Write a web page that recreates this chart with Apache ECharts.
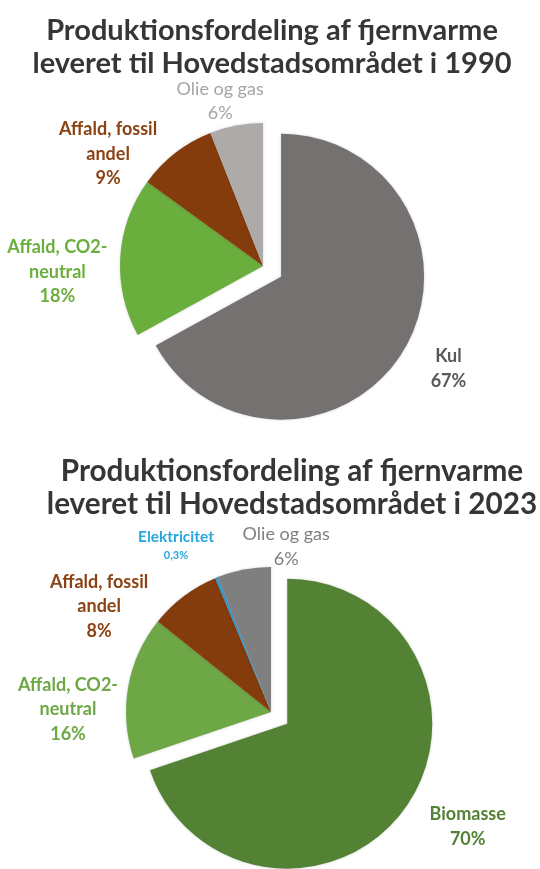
<!DOCTYPE html>
<html>
<head>
<meta charset="utf-8">
<script src="https://cdn.jsdelivr.net/npm/echarts@6/dist/echarts.min.js"></script>
<style>
  html, body { margin: 0; padding: 0; background: #ffffff; }
  #chart { width: 540px; height: 869px; }
</style>
</head>
<body>
<div id="chart"></div>
<script>
// ---- data ----
const title1990 = 'Produktionsfordeling af fjernvarme\nleveret til Hovedstadsområdet i 1990';
const title2023 = 'Produktionsfordeling af fjernvarme\nleveret til Hovedstadsområdet i 2023';
const categories1990 = ['Kul', 'Affald, CO2-\nneutral', 'Affald, fossil\nandel', 'Olie og gas'];
const values1990 = [67, 18, 9, 6];
const categories2023 = ['Biomasse', 'Affald, CO2-\nneutral', 'Affald, fossil\nandel', 'Elektricitet', 'Olie og gas'];
const values2023 = [70, 16, 8, 0.3, 6];

// ---- styles / layout ----
const sliceColors1990 = ['#767171', '#6aae3e', '#843c0c', '#aeaaaa'];
const labelColors1990 = ['#595959', '#6aae3e', '#8c4314', '#a5a5a5'];
const labelWeights1990 = ['bold', 'bold', 'bold', 'normal'];
const sliceColors2023 = ['#548235', '#6ea846', '#843c0c', '#2e9bd6', '#7f7f7f'];
const labelColors2023 = ['#548235', '#6ea846', '#8c4314', '#27a6de', '#7f7f7f'];
const labelWeights2023 = ['bold', 'bold', 'bold', 'bold', 'normal'];

const layouts = [
  { center: [263, 266], radius: 143, explodeIndex: 0, explode: 21,
    labelOff: [[48, 3, -5], [62, -1, 19], [38, -44, 31], [27, -11, 2]] },
  { center: [271, 712], radius: 145, explodeIndex: 0, explode: 20,
    labelOff: [[61, 13, -17], [55, -6, 32], [41, -60, 43], [44, -24, 9], [20, 46, -3]] }
];
const allValues = [values1990, values2023];

// direction of the bisector of slice di (clockwise from 12 o'clock)
function sliceDir(si, di) {
  const vals = allValues[si];
  const total = vals.reduce((a, b) => a + b, 0);
  let cum = 0;
  for (let k = 0; k < di; k++) cum += vals[k];
  const mid = (cum + vals[di] / 2) / total * Math.PI * 2;
  return [Math.sin(mid), -Math.cos(mid)];
}

function explodedCenter(si) {
  const lay = layouts[si];
  const d = sliceDir(si, lay.explodeIndex);
  return [lay.center[0] + d[0] * lay.explode, lay.center[1] + d[1] * lay.explode];
}

function labelPlace(si, di) {
  const lay = layouts[si];
  const dir = sliceDir(si, di);
  const c = di === lay.explodeIndex ? explodedCenter(si) : lay.center;
  const o = lay.labelOff[di];
  const d = lay.radius + o[0];
  return { x: c[0] + dir[0] * d + o[1], y: c[1] + dir[1] * d + o[2], align: 'center', verticalAlign: 'middle' };
}

function fmtVal(v) { return String(v).replace('.', ',') + '%'; }

// part: 'rest' draws every slice except the exploded one, 'explode' draws only the exploded one
function buildData(si, cats, vals, sliceColors, labelColors, weights, part) {
  const ex = layouts[si].explodeIndex;
  return cats.map((c, i) => {
    const visible = part === 'explode' ? i === ex : i !== ex;
    const item = {
      name: c,
      value: vals[i],
      itemStyle: visible
        ? { color: sliceColors[i] }
        : { color: 'rgba(0,0,0,0)', shadowBlur: 0, shadowColor: 'rgba(0,0,0,0)' },
      label: visible
        ? { show: true, color: labelColors[i], fontWeight: weights[i] }
        : { show: false }
    };
    if (visible && c === 'Elektricitet') {
      item.label.rich = {
        n: { fontSize: 15.5, lineHeight: 20, fontWeight: 'bold', color: labelColors[i], fontFamily: 'Lato' },
        v: { fontSize: 11, lineHeight: 18, fontWeight: 'bold', color: labelColors[i], fontFamily: 'Lato' }
      };
    }
    return item;
  });
}

function pieSeries(si, data, center) {
  const lay = layouts[si];
  return {
    type: 'pie',
    center: center,
    radius: [0, lay.radius],
    startAngle: 90,
    clockwise: true,
    avoidLabelOverlap: false,
    emphasis: { disabled: true },
    silent: true,
    itemStyle: { borderWidth: 0, shadowBlur: 3, shadowColor: 'rgba(0,0,0,0.18)' },
    label: {
      show: true,
      position: 'outside',
      fontFamily: 'Lato',
      fontSize: 18,
      lineHeight: 24.5,
      rich: { n: {}, v: {} },
      formatter: function (p) {
        return '{n|' + p.name.split('\n').join('}\n{n|') + '}\n{v|' + fmtVal(p.value) + '}';
      }
    },
    labelLine: { show: false },
    labelLayout: function (params) { return labelPlace(si, params.dataIndex); },
    data: data
  };
}

const chart = echarts.init(document.getElementById('chart'), null, { renderer: 'canvas' });
chart.setOption({
  backgroundColor: '#ffffff',
  animation: false,
  title: [
    {
      text: title1990,
      left: 272,
      top: 14,
      padding: 0,
      textAlign: 'center',
      textStyle: { fontFamily: 'Lato', fontWeight: 'bold', fontSize: 29, lineHeight: 33, color: '#363636' }
    },
    {
      text: title2023,
      left: 292,
      top: 455,
      padding: 0,
      textAlign: 'center',
      textStyle: { fontFamily: 'Lato', fontWeight: 'bold', fontSize: 29.7, lineHeight: 33, color: '#363636' }
    }
  ],
  series: [
    pieSeries(0, buildData(0, categories1990, values1990, sliceColors1990, labelColors1990, labelWeights1990, 'rest'), layouts[0].center),
    pieSeries(0, buildData(0, categories1990, values1990, sliceColors1990, labelColors1990, labelWeights1990, 'explode'), explodedCenter(0)),
    pieSeries(1, buildData(1, categories2023, values2023, sliceColors2023, labelColors2023, labelWeights2023, 'rest'), layouts[1].center),
    pieSeries(1, buildData(1, categories2023, values2023, sliceColors2023, labelColors2023, labelWeights2023, 'explode'), explodedCenter(1))
  ]
});
</script>
</body>
</html>
